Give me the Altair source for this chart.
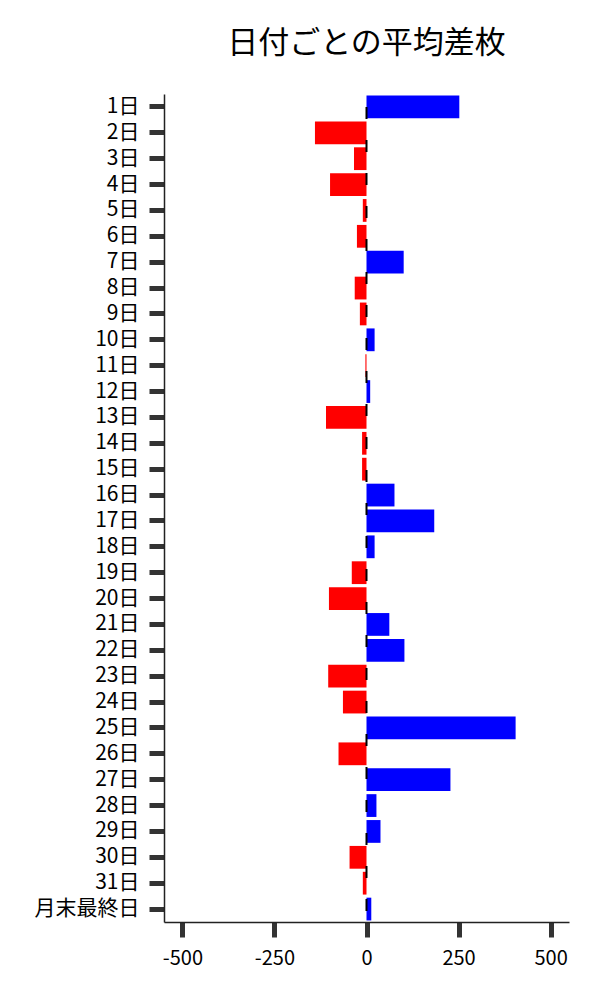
import altair as alt
import pandas as pd

days = [f"{i}日" for i in range(1, 32)] + ["月末最終日"]
values = [252, -140, -34, -99, -10, -26, 101, -32, -18, 22,
          -3, 10, -110, -12, -12, 76, 184, 22, -40, -102,
          62, 103, -104, -64, 405, -76, 228, 27, 38, -46,
          -10, 13]

df = pd.DataFrame({"day": days, "value": values})

FONT = "Noto Sans CJK JP"
W, H = 405, 828

bars = alt.Chart(df).mark_bar().encode(
    y=alt.Y("day:N", sort=days,
            scale=alt.Scale(paddingInner=0.12, paddingOuter=0.06),
            axis=alt.Axis(title=None, labelFont=FONT, labelFontSize=21,
                          labelColor="black", labelPadding=10,
                          tickSize=15, tickWidth=5, tickColor="#333333",
                          domainColor="#222222", domainWidth=1.5,
                          grid=False)),
    x=alt.X("value:Q",
            scale=alt.Scale(domain=[-550, 550], nice=False, zero=False),
            axis=alt.Axis(title=None, values=[-500, -250, 0, 250, 500],
                          labelExpr="toString(datum.value)",
                          labelFont=FONT, labelFontSize=20, labelColor="black",
                          labelPadding=11, tickSize=15, tickWidth=5,
                          tickColor="#333333", domainColor="#222222",
                          domainWidth=1.5, grid=False, labelFlush=False)),
    color=alt.condition(alt.datum.value > 0, alt.value("#0000ff"), alt.value("#ff0000")),
)

zero_rule = alt.Chart(pd.DataFrame({"z": [0]})).mark_rule(
    color="black", strokeWidth=2, strokeDash=[12, 21], strokeDashOffset=20
).encode(
    x="z:Q",
    y=alt.value(0),
    y2=alt.value(H),
)

chart = alt.layer(bars, zero_rule).properties(
    width=W, height=H,
    title=alt.TitleParams("日付ごとの平均差枚", font=FONT, fontSize=31,
                          fontWeight="normal", color="black",
                          anchor="middle", frame="group", offset=33),
    padding={"left": 26, "top": 20, "right": 5, "bottom": 5},
).configure_view(stroke=None)

chart.save("out.html", embed_options={"renderer": "svg", "actions": False})
